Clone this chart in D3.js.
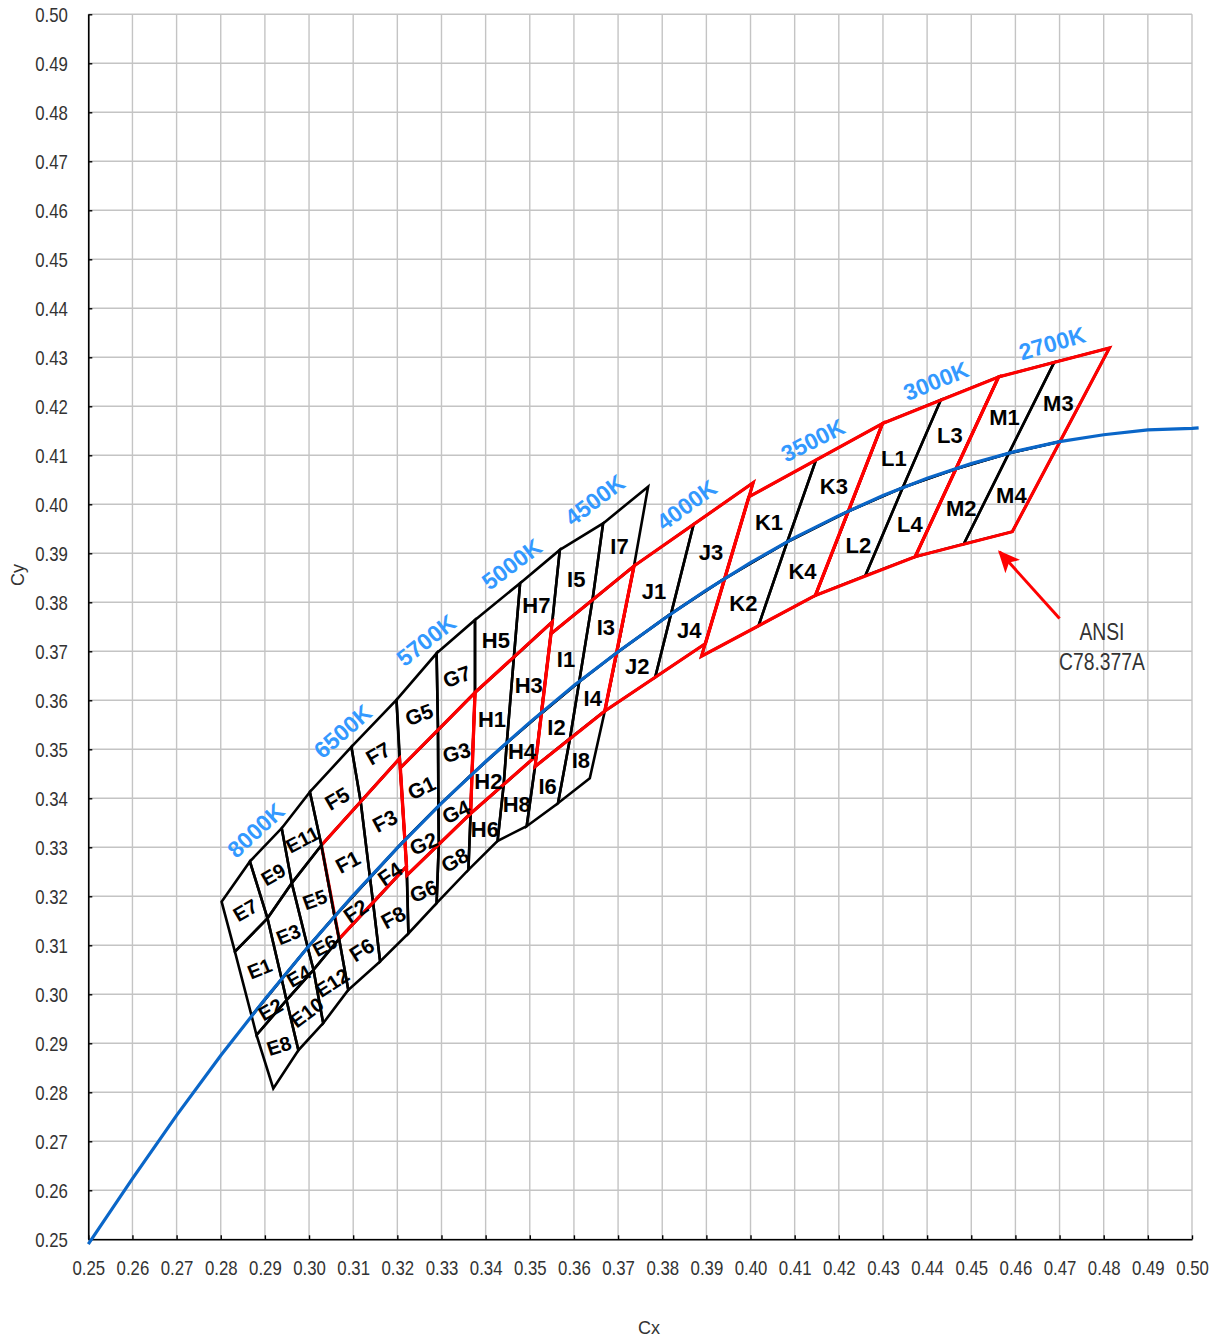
<!DOCTYPE html>
<html>
<head>
<meta charset="utf-8">
<script src="https://cdn.jsdelivr.net/npm/d3@7"></script>
<style>
body { margin: 0; background: #fff; }
text { font-family: "Liberation Sans", Arial, sans-serif; }
</style>
</head>
<body>
<svg id="chart" width="1218" height="1338"></svg>
<script>
// axis ticks (CIE 1931 x / y)
var tickX = [0.25,0.26,0.27,0.28,0.29,0.30,0.31,0.32,0.33,0.34,0.35,0.36,0.37,0.38,0.39,0.40,0.41,0.42,0.43,0.44,0.45,0.46,0.47,0.48,0.49,0.50];
var tickY = [0.25,0.26,0.27,0.28,0.29,0.30,0.31,0.32,0.33,0.34,0.35,0.36,0.37,0.38,0.39,0.40,0.41,0.42,0.43,0.44,0.45,0.46,0.47,0.48,0.49,0.50];

// planckian locus [x, y]
var locus = [[0.250,0.2490],[0.260,0.2624],[0.270,0.2753],[0.280,0.2875],[0.290,0.2990],[0.300,0.3099],
  [0.310,0.3202],[0.320,0.3299],[0.330,0.3390],[0.340,0.3475],[0.350,0.3555],[0.360,0.3630],
  [0.370,0.3699],[0.380,0.3764],[0.390,0.3825],[0.400,0.3881],[0.410,0.3932],[0.420,0.3977],
  [0.430,0.4018],[0.440,0.4053],[0.450,0.4083],[0.460,0.4108],[0.470,0.4128],[0.480,0.4142],
  [0.490,0.4152],[0.500,0.4155],[0.5015,0.4156]];

// ANSI C78.377A quadrangles
var ansiCct = ["6500K","5700K","5000K","4500K","4000K","3500K","3000K","2700K"];
var ansiQuads = [
  [[0.3028,0.3304],[0.3205,0.3481],[0.3221,0.3261],[0.3068,0.3113]],
  [[0.3207,0.3462],[0.3376,0.3616],[0.3366,0.3369],[0.3222,0.3243]],
  [[0.3376,0.3616],[0.3551,0.3760],[0.3515,0.3487],[0.3366,0.3369]],
  [[0.3548,0.3736],[0.3736,0.3874],[0.3670,0.3578],[0.3512,0.3465]],
  [[0.3736,0.3874],[0.4006,0.4044],[0.3898,0.3716],[0.3670,0.3578]],
  [[0.3996,0.4015],[0.4299,0.4165],[0.4147,0.3814],[0.3889,0.3690]],
  [[0.4299,0.4165],[0.4562,0.4260],[0.4373,0.3893],[0.4147,0.3814]],
  [[0.4562,0.4260],[0.4813,0.4319],[0.4593,0.3944],[0.4373,0.3893]]
];

// bin boundary lines per group, each line listed top -> bottom
var linesE = [
  [[0.2802,0.3189],[0.2832,0.3087],[0.2870,0.2956],[0.2881,0.2917],[0.2919,0.2808]],
  [[0.2866,0.3271],[0.2906,0.3155],[0.2938,0.3031],[0.2949,0.2988],[0.2976,0.2886]],
  [[0.2938,0.3339],[0.2961,0.3227],[0.2997,0.3096],[0.3010,0.3050],[0.3032,0.2941]],
  [[0.3002,0.3413],[0.3028,0.3304],[0.3058,0.3159],[0.3068,0.3113],[0.3089,0.3009]]
];
var linesF = [
  [[0.3002,0.3413],[0.3028,0.3304],[0.3058,0.3159],[0.3068,0.3113],[0.3089,0.3009]],
  [[0.3096,0.3505],[0.3117,0.3393],[0.3138,0.3238],[0.3145,0.3187],[0.3161,0.3067]],
  [[0.3198,0.3601],[0.3205,0.3481],[0.3217,0.3315],[0.3221,0.3261],[0.3225,0.3124]]
];
var linesG = [
  [[0.3198,0.3601],[0.3207,0.3462],[0.3217,0.3315],[0.3222,0.3243],[0.3225,0.3124]],
  [[0.3289,0.3696],[0.3292,0.3539],[0.3293,0.3384],[0.3294,0.3306],[0.3289,0.3186]],
  [[0.3376,0.3764],[0.3376,0.3616],[0.3369,0.3449],[0.3366,0.3369],[0.3361,0.3254]]
];
var linesH = [
  [[0.3376,0.3764],[0.3376,0.3616],[0.3369,0.3449],[0.3366,0.3369],[0.3361,0.3254]],
  [[0.3478,0.3839],[0.3464,0.3688],[0.3448,0.3513],[0.3441,0.3428],[0.3427,0.3313]],
  [[0.3568,0.3907],[0.3551,0.3760],[0.3526,0.3574],[0.3515,0.3487],[0.3493,0.3343]]
];
var linesI = [
  [[0.3568,0.3907],[0.3548,0.3736],[0.3526,0.3573],[0.3512,0.3465],[0.3493,0.3343]],
  [[0.3666,0.3961],[0.3642,0.3805],[0.3612,0.3638],[0.3591,0.3522],[0.3564,0.3390]],
  [[0.3768,0.4036],[0.3736,0.3874],[0.3697,0.3697],[0.3670,0.3578],[0.3636,0.3441]]
];
var linesJ = [
  [[0.3736,0.3874],[0.3697,0.3697],[0.3670,0.3578]],
  [[0.3871,0.3959],[0.3820,0.3777],[0.3784,0.3647]],
  [[0.4006,0.4044],[0.3942,0.3849],[0.3898,0.3716]]
];
var linesK = [
  [[0.3996,0.4015],[0.3941,0.3848],[0.3889,0.3690]],
  [[0.4148,0.4090],[0.4083,0.3923],[0.4018,0.3752]],
  [[0.4299,0.4165],[0.4222,0.3986],[0.4147,0.3814]]
];
var linesL = [
  [[0.4299,0.4165],[0.4222,0.3986],[0.4147,0.3814]],
  [[0.4431,0.4213],[0.4345,0.4034],[0.4260,0.3854]],
  [[0.4562,0.4260],[0.4465,0.4072],[0.4373,0.3893]]
];
var linesM = [
  [[0.4562,0.4260],[0.4465,0.4072],[0.4373,0.3893]],
  [[0.4688,0.4290],[0.4585,0.4104],[0.4483,0.3919]],
  [[0.4813,0.4319],[0.4701,0.4128],[0.4593,0.3944]]
];

// bin names, rows top -> bottom, columns left -> right
var namesE = [["E7","E9","E11"],["E1","E3","E5"],["E2","E4","E6"],["E8","E10","E12"]];
var namesF = [["F5","F7"],["F1","F3"],["F2","F4"],["F6","F8"]];
var namesG = [["G5","G7"],["G1","G3"],["G2","G4"],["G6","G8"]];
var namesH = [["H5","H7"],["H1","H3"],["H2","H4"],["H6","H8"]];
var namesI = [["I5","I7"],["I1","I3"],["I2","I4"],["I6","I8"]];
var namesJ = [["J1","J3"],["J2","J4"]];
var namesK = [["K1","K3"],["K2","K4"]];
var namesL = [["L1","L3"],["L2","L4"]];
var namesM = [["M1","M3"],["M2","M4"]];

// CCT captions and where they sit
var cctNames = ["8000K","6500K","5700K","5000K","4500K","4000K","3500K","3000K","2700K"];
var cctAt = [[0.2879,0.3335],[0.3076,0.3537],[0.3265,0.3723],[0.3459,0.3878],[0.3647,0.4009],
  [0.3855,0.3999],[0.4141,0.4131],[0.4420,0.4252],[0.4683,0.4329]];
var cctTilt = [-43,-41,-38,-37,-37,-36,-27,-22,-16];

// label tilt (deg) for the small bin names
var tilt = {E7:-30,E9:-30,E11:-28,E1:-22,E3:-22,E5:-20,E2:-30,E4:-30,E6:-28,E8:-18,E10:-37,E12:-33,
  F5:-30,F7:-30,F1:-28,F3:-28,F2:-35,F4:-35,F6:-32,F8:-28,
  G5:-20,G7:-20,G1:-25,G3:-15,G2:-24,G4:-25,G6:-22,G8:-30};

var annText = ["ANSI","C78.377A"];
var annAt = [0.4796,0.3739];
var arrowFrom = [0.4700,0.3767], arrowTo = [0.4564,0.3903];

var svg = d3.select("#chart");
var x = d3.scaleLinear().domain([0.25,0.50]).range([88.3,1192]);
var y = d3.scaleLinear().domain([0.25,0.50]).range([1239.3,14.3]);
var fmt = d3.format(".2f");
var condense = 0.84;

// grid
var grid = svg.append("g").attr("stroke","#c4c4c4").attr("stroke-width",1.4);
grid.selectAll("line.v").data(tickX).enter().append("line")
	.attr("x1",function(d){return x(d);}).attr("x2",function(d){return x(d);})
	.attr("y1",y(0.25)).attr("y2",y(0.50));
grid.selectAll("line.h").data(tickY).enter().append("line")
	.attr("y1",function(d){return y(d);}).attr("y2",function(d){return y(d);})
	.attr("x1",x(0.25)).attr("x2",x(0.50));

// axes
var gx = svg.append("g").attr("transform","translate(0,"+y(0.25)+")")
	.call(d3.axisBottom(x).tickValues(tickX).tickSize(-4).tickSizeOuter(0).tickFormat(fmt));
var gy = svg.append("g").attr("transform","translate("+x(0.25)+",0)")
	.call(d3.axisLeft(y).tickValues(tickY).tickSize(-4).tickSizeOuter(0).tickFormat(fmt));
[gx,gy].forEach(function(g) {
	g.attr("font-family",null).attr("font-size",null);
	g.select(".domain").attr("stroke","#000").attr("stroke-width",1.6);
	g.selectAll(".tick line").attr("stroke","#000").attr("stroke-width",1.4);
	g.selectAll(".tick text").attr("fill","#333").style("font-size","20px")
		.attr("transform","scale("+condense+",1)");
});
gx.selectAll(".tick text").attr("y",36).attr("dy",null);
gy.selectAll(".tick text").attr("x",-20.5/condense).attr("dy","0.36em");

svg.append("text").attr("x",649).attr("y",1334).attr("text-anchor","middle")
	.attr("fill","#333").style("font-size","18px").text("Cx");
svg.append("text").attr("transform","translate(24,575) rotate(-90)").attr("text-anchor","middle")
	.attr("fill","#333").style("font-size","18px").text("Cy");

function path(pts) {
	return "M" + pts.map(function(p){return x(p[0]).toFixed(1)+","+y(p[1]).toFixed(1);}).join("L") + "Z";
}

// build the cell table from the lines and names
function cells(lines, names, size) {
	var out = [];
	names.forEach(function(row, r) {
		row.forEach(function(name, c) {
			out.push({name: name, size: size, pts: [lines[c][r], lines[c+1][r], lines[c+1][r+1], lines[c][r+1]]});
		});
	});
	return out;
}
var groupE = cells(linesE, namesE, 20);
var groupRest = [].concat(cells(linesF,namesF,21), cells(linesG,namesG,21), cells(linesH,namesH,22),
	cells(linesI,namesI,22), cells(linesJ,namesJ,22), cells(linesK,namesK,22), cells(linesL,namesL,22), cells(linesM,namesM,22));

function drawCells(list) {
	svg.append("g").selectAll("path").data(list).enter().append("path")
		.attr("d",function(d){return path(d.pts);})
		.attr("fill","none").attr("stroke","#000").attr("stroke-width",2.6).attr("stroke-linejoin","miter");
}
drawCells(groupRest);

svg.append("g").selectAll("path").data(ansiQuads).enter().append("path")
	.attr("d",path).attr("fill","none").attr("stroke","#ff0000").attr("stroke-width",3.2)
	.attr("stroke-linejoin","miter");

drawCells(groupE);

// locus
svg.append("path").datum(locus)
	.attr("d",d3.line().x(function(d){return x(d[0]);}).y(function(d){return y(d[1]);}))
	.attr("fill","none").attr("stroke","#0a66c8").attr("stroke-width",3.2);

// bin names
svg.append("g").selectAll("text").data(groupE.concat(groupRest)).enter().append("text")
	.attr("transform",function(d) {
		var c = d3.polygonCentroid(d.pts.map(function(p){return [x(p[0]),y(p[1])];}));
		return "translate("+c[0].toFixed(1)+","+c[1].toFixed(1)+") rotate("+(tilt[d.name]||0)+")";
	})
	.attr("text-anchor","middle").attr("dy","0.48em")
	.style("font-size",function(d){return d.size+"px";}).style("font-weight","bold").attr("fill","#000")
	.text(function(d){return d.name;});

// CCT captions
svg.append("g").selectAll("text").data(cctNames).enter().append("text")
	.attr("transform",function(d,i){return "translate("+x(cctAt[i][0])+","+y(cctAt[i][1])+") rotate("+cctTilt[i]+")";})
	.attr("text-anchor","middle").attr("dy","0.36em")
	.style("font-size","23px").style("font-weight","bold").attr("fill","#3399ff")
	.text(function(d){return d;});

// annotation
svg.append("defs").append("marker").attr("id","head").attr("viewBox","0 0 20 20")
	.attr("refX",18).attr("refY",10).attr("markerWidth",22).attr("markerHeight",22)
	.attr("markerUnits","userSpaceOnUse").attr("orient","auto")
	.append("path").attr("d","M0,1 L20,10 L0,19 L5,10 Z").attr("fill","#ff0000");
svg.append("line").attr("x1",x(arrowFrom[0])).attr("y1",y(arrowFrom[1]))
	.attr("x2",x(arrowTo[0])).attr("y2",y(arrowTo[1]))
	.attr("stroke","#ff0000").attr("stroke-width",3).attr("marker-end","url(#head)");
svg.append("g").selectAll("text").data(annText).enter().append("text")
	.attr("transform",function(d,i){return "translate("+x(annAt[0])+","+(y(annAt[1])+i*30)+") scale(0.84,1)";})
	.attr("text-anchor","middle").attr("dy","0.36em").attr("fill","#333")
	.style("font-size","23px").text(function(d){return d;});
</script>
</body>
</html>
